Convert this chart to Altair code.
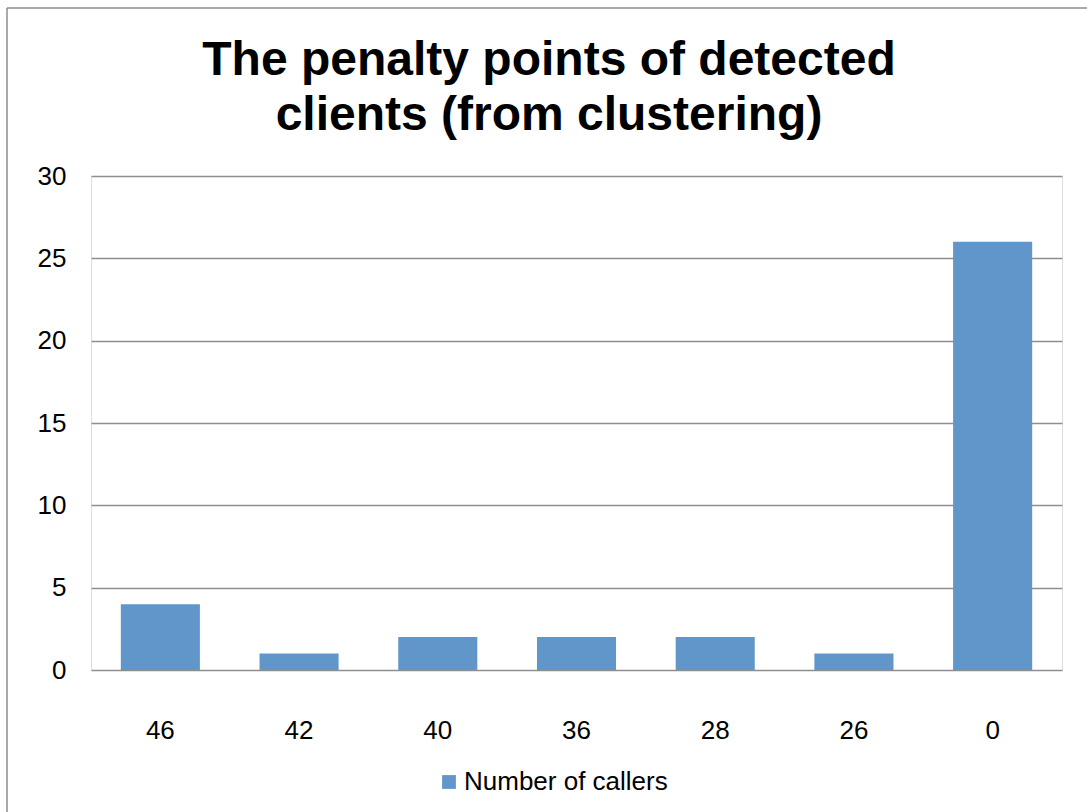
import altair as alt
import pandas as pd

categories = ["46", "42", "40", "36", "28", "26", "0"]
callers = [4, 1, 2, 2, 2, 1, 26]
series_name = "Number of callers"
y_ticks = [0, 5, 10, 15, 20, 25, 30]
title_lines = ["The penalty points of detected", "clients (from clustering)"]

df = pd.DataFrame({"points": categories, "callers": callers, "series": [series_name] * len(categories)})

FONT = "Liberation Sans"
GRID = "#8E8E8E"
BAR = "#6096C9"

bars = alt.Chart(df).mark_bar(color=BAR).encode(
    x=alt.X("points:N", sort=categories, title=None,
            scale=alt.Scale(paddingInner=0.43, paddingOuter=0.215),
            axis=alt.Axis(labelAngle=0, ticks=False, domain=False, labelPadding=47,
                          labelFontSize=26, labelFont=FONT, labelColor="#000000")),
    y=alt.Y("callers:Q", title=None, scale=alt.Scale(domain=[0, 30], nice=False),
            axis=alt.Axis(values=y_ticks, ticks=False, domain=False, grid=True,
                          gridColor=GRID, gridWidth=1.5, labelPadding=25,
                          labelFontSize=26, labelFont=FONT, labelColor="#000000")),
    color=alt.Color("series:N", scale=alt.Scale(range=[BAR]),
                    legend=alt.Legend(title=None, orient="none", legendX=345, legendY=593,
                                      symbolType="square", symbolSize=190, symbolStrokeWidth=0,
                                      labelFontSize=26, labelFont=FONT, labelColor="#000000",
                                      labelOffset=2, labelLimit=0)),
)

frame = pd.DataFrame({"k": [0]})
left_border = alt.Chart(frame).mark_rule(color="#8C8C8C", strokeWidth=1.5).encode(
    x=alt.value(-84), y=alt.value(-168), y2=alt.value(700))
top_border = alt.Chart(frame).mark_rule(color="#8C8C8C", strokeWidth=1.5).encode(
    x=alt.value(-84), x2=alt.value(1000), y=alt.value(-168))

title1 = alt.Chart(frame).mark_text(
    text=title_lines[0], font=FONT, fontSize=48, fontWeight="bold", color="#000000",
    align="center", baseline="alphabetic").encode(x=alt.value(458), y=alt.value(-101))
title2 = alt.Chart(frame).mark_text(
    text=title_lines[1], font=FONT, fontSize=48, fontWeight="bold", color="#000000",
    align="center", baseline="alphabetic").encode(x=alt.value(458), y=alt.value(-46))

chart = alt.layer(left_border, top_border, bars, title1, title2).properties(
    width=971, height=494,
    autosize=alt.AutoSizeParams(type="none"),
    padding={"left": 91, "top": 176, "right": 25, "bottom": 142},
).configure_view(stroke=None).configure(background="white")

chart.save("out.html", embed_options={"renderer": "svg", "actions": False})
